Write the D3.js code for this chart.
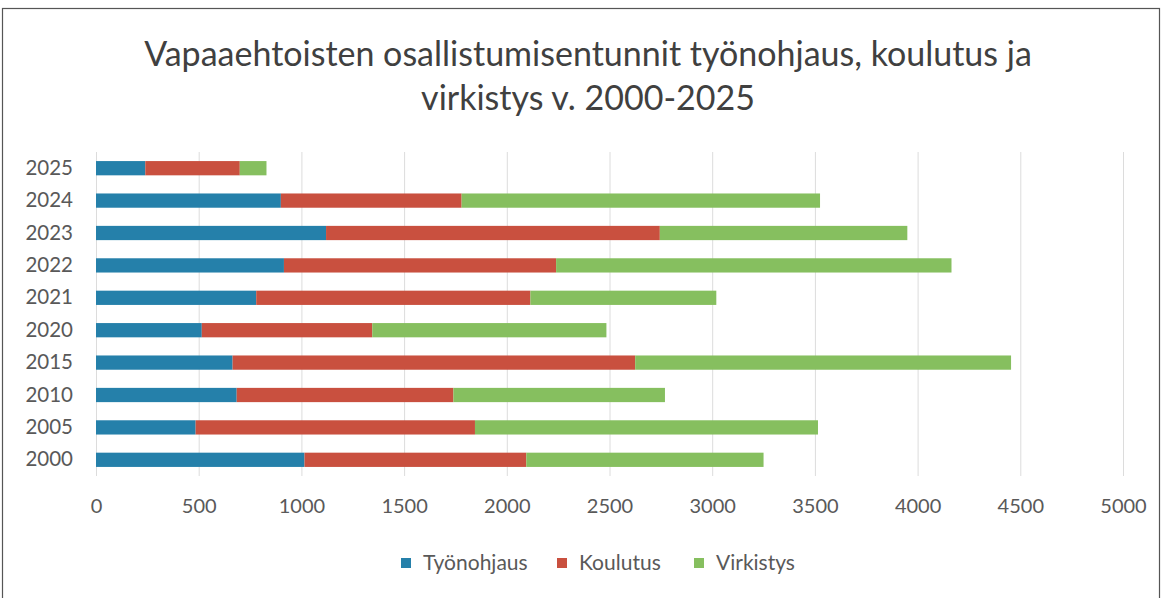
<!DOCTYPE html>
<html><head><meta charset="utf-8">
<script src="https://cdn.jsdelivr.net/npm/d3@7"></script>
<style>
html,body{margin:0;padding:0;background:#fff;}
svg{display:block;}
</style></head>
<body>
<svg id="chart" width="1163" height="598"></svg>
<script>
const years = ["2025","2024","2023","2022","2021","2020","2015","2010","2005","2000"];
const tyonohjaus = [240, 900, 1120, 915, 780, 515, 665, 685, 485, 1015];
const koulutus   = [460, 880, 1625, 1325, 1335, 830, 1960, 1055, 1360, 1080];
const virkistys  = [130, 1745, 1205, 1925, 905, 1140, 1830, 1030, 1670, 1155];
const seriesNames = ["Työnohjaus", "Koulutus", "Virkistys"];
const xTicks = [0,500,1000,1500,2000,2500,3000,3500,4000,4500,5000];
const titleLines = ["Vapaaehtoisten osallistumisentunnit työnohjaus, koulutus ja", "virkistys v. 2000-2025"];

const colors = ["#2580aa", "#c9503f", "#86bf5f"];
const font = "Lato, 'Open Sans', sans-serif";

const svg = d3.select("#chart");
// frame
svg.append("rect").attr("x",2.5).attr("y",8.5).attr("width",1157).attr("height",600)
  .attr("fill","none").attr("stroke","#555").attr("stroke-width",1.2);

const rows = years.map((y,i)=>({year:y, "Työnohjaus":tyonohjaus[i], "Koulutus":koulutus[i], "Virkistys":virkistys[i]}));
const stack = d3.stack().keys(seriesNames)(rows);

const x = d3.scaleLinear().domain([0,5000]).range([96,1123]);
const y = d3.scaleBand().domain(years).range([152,476]).paddingInner(0.56).paddingOuter(0.28);

// gridlines
svg.append("g").selectAll("line").data(xTicks).join("line")
  .attr("x1",d=>x(d)+0.5).attr("x2",d=>x(d)+0.5).attr("y1",152).attr("y2",476)
  .attr("stroke","#dcdcdc").attr("stroke-width",1);

// bars
svg.append("g").selectAll("g").data(stack).join("g")
  .attr("fill",(d,i)=>colors[i])
  .selectAll("rect").data(d=>d).join("rect")
  .attr("x",d=>x(d[0])).attr("width",d=>x(d[1])-x(d[0]))
  .attr("y",d=>y(d.data.year)).attr("height",y.bandwidth());

// x axis
const xa = svg.append("g").attr("transform","translate(0,476)")
  .call(d3.axisBottom(x).tickValues(xTicks).tickSize(0).tickPadding(23).tickFormat(d3.format("d")));
xa.select(".domain").remove();
xa.selectAll("text").attr("font-family",font).attr("font-size",20).attr("fill","#595959");

// y axis
const ya = svg.append("g").attr("transform","translate(84,0)")
  .call(d3.axisLeft(y).tickSize(0).tickPadding(11));
ya.select(".domain").remove();
ya.selectAll("text").attr("font-family",font).attr("font-size",20.5).attr("fill","#595959");

// title
svg.append("g").selectAll("text").data(titleLines).join("text")
  .attr("x",588).attr("y",(d,i)=>66+i*44)
  .attr("text-anchor","middle").attr("font-family",font).attr("font-size",34).attr("fill","#404040")
  .text(d=>d);

// legend
const legendX = [401, 557, 694];
const lg = svg.append("g").selectAll("g").data(seriesNames).join("g")
  .attr("transform",(d,i)=>`translate(${legendX[i]},563)`);
lg.append("rect").attr("x",0).attr("y",-5).attr("width",10).attr("height",10).attr("fill",(d,i)=>colors[i]);
lg.append("text").attr("x",22).attr("y",0).attr("dy","0.35em")
  .attr("font-family",font).attr("font-size",21).attr("fill","#595959").text(d=>d);
</script>
</body></html>
